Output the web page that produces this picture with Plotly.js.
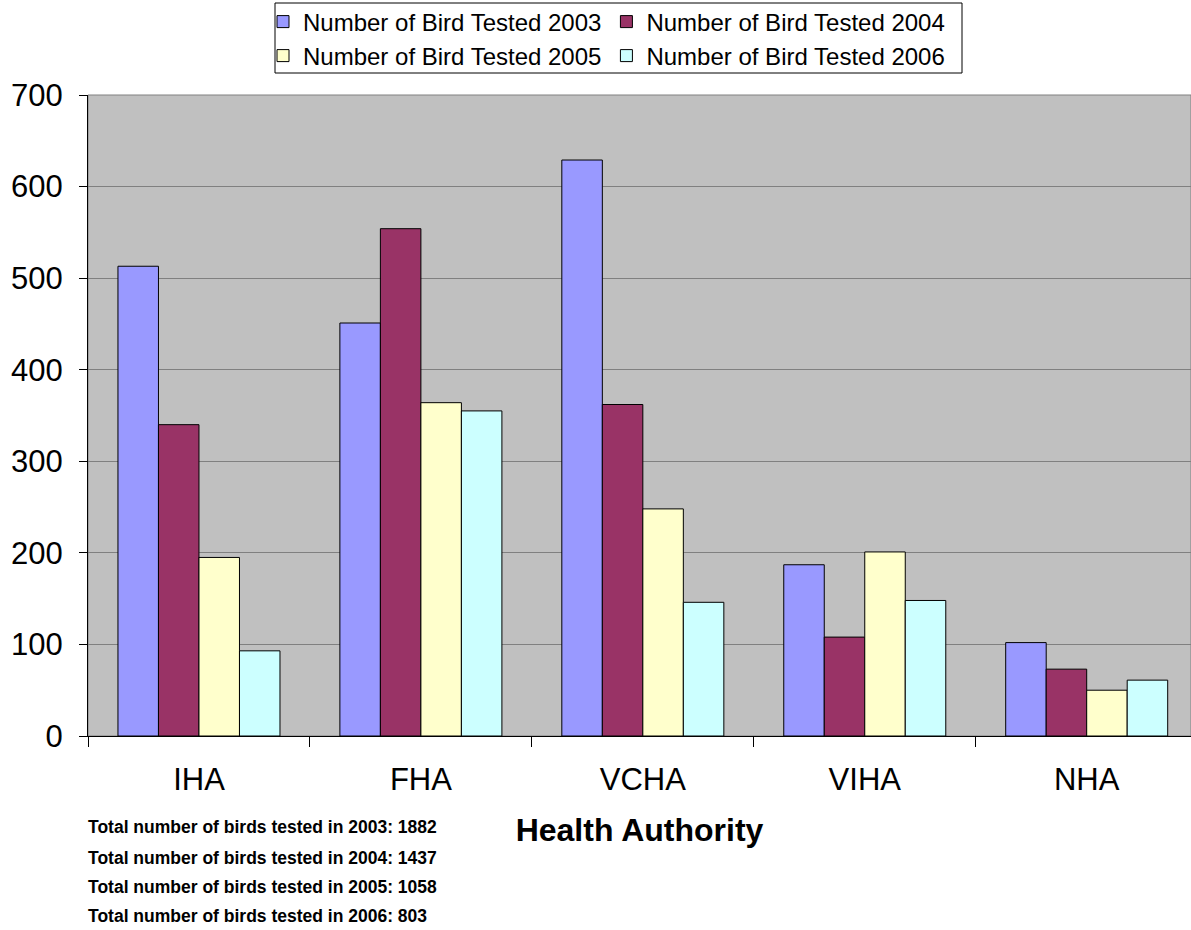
<!DOCTYPE html>
<html>
<head>
<meta charset="utf-8">
<script src="https://cdn.plot.ly/plotly-3.0.1.min.js"></script>
<style>body{margin:0;padding:0;background:#fff;} #chart{width:1191px;height:930px;}</style>
</head>
<body>
<div id="chart"></div>
<script>
const categories = ["IHA", "FHA", "VCHA", "VIHA", "NHA"];
const seriesNames = ["Number of Bird Tested 2003", "Number of Bird Tested 2004", "Number of Bird Tested 2005", "Number of Bird Tested 2006"];
const tested2003 = [513, 451, 629, 187, 102];
const tested2004 = [340, 554, 362, 108, 73];
const tested2005 = [195, 364, 248, 201, 50];
const tested2006 = [93, 355, 146, 148, 61];
const totalsText = [
  "Total number of birds tested in 2003: 1882",
  "Total number of birds tested in 2004: 1437",
  "Total number of birds tested in 2005: 1058",
  "Total number of birds tested in 2006: 803"
];
const colors = ["#9999FF", "#993366", "#FFFFCC", "#CCFFFF"];
const values = [tested2003, tested2004, tested2005, tested2006];
const legendIds = ["legend", "legend", "legend2", "legend2"];

const W = 1191, H = 930;
const M = {l: 88, r: 0, t: 95, b: 194};
const plotW = W - M.l - M.r, plotH = H - M.t - M.b;
const px2paperX = x => (x - M.l) / plotW;
const px2paperY = y => (H - M.b - y) / plotH;

const traces = values.map((v, i) => ({
  type: "bar",
  name: seriesNames[i],
  legend: legendIds[i],
  x: categories,
  y: v,
  marker: {color: colors[i], line: {color: "#000", width: 1}},
  hoverinfo: "x+y+name"
}));

const annYs = [827, 858, 887, 916];
const annotations = totalsText.map((t, i) => ({
  text: "<b>" + t + "</b>",
  xref: "paper", yref: "paper",
  x: px2paperX(86), xanchor: "left",
  y: px2paperY(annYs[i]), yanchor: "middle",
  showarrow: false,
  font: {family: "Arial, Liberation Sans, sans-serif", size: 17.5, color: "#000"}
}));

const legendCommon = {
  orientation: "h",
  xref: "container", yref: "container",
  xanchor: "left", yanchor: "middle",
  bgcolor: "rgba(0,0,0,0)", borderwidth: 0,
  font: {size: 24, family: "Arial, Liberation Sans, sans-serif", color: "#000"},
  traceorder: "normal",
  itemwidth: 30
};

const layout = {
  width: W, height: H,
  margin: M,
  paper_bgcolor: "#ffffff",
  plot_bgcolor: "#C0C0C0",
  font: {family: "Arial, Liberation Sans, sans-serif", color: "#000"},
  barmode: "group",
  bargap: 0.27,
  bargroupgap: 0,
  showlegend: true,
  legend: Object.assign({}, legendCommon, {x: 263 / W, y: 1 - 22 / H}),
  legend2: Object.assign({}, legendCommon, {x: 263 / W, y: 1 - 56 / H}),
  xaxis: {
    type: "category",
    range: [-0.5, 4.47],
    tickson: "boundaries",
    ticks: "outside", ticklen: 10, tickcolor: "#000",
    showline: true, linecolor: "#000", linewidth: 1,
    tickfont: {size: 31},
    ticklabelstandoff: 16,
    title: {text: "<b>Health Authority</b>", font: {size: 32}, standoff: 22},
    automargin: false
  },
  yaxis: {
    range: [0, 700],
    dtick: 100,
    ticks: "outside", ticklen: 8, tickcolor: "#000",
    showline: true, linecolor: "#000", linewidth: 1,
    gridcolor: "#808080", gridwidth: 1,
    tickfont: {size: 31},
    ticklabelstandoff: 10,
    zeroline: false,
    automargin: false
  },
  shapes: [
    {type: "rect", xref: "paper", yref: "paper", x0: 0, x1: 1, y0: 0, y1: 1,
     line: {color: "#808080", width: 1}, layer: "below"},
    {type: "rect", xref: "paper", yref: "paper",
     x0: px2paperX(275), x1: px2paperX(962), y0: px2paperY(73), y1: px2paperY(3),
     line: {color: "#000", width: 1}, fillcolor: "rgba(0,0,0,0)", layer: "above"}
  ],
  annotations: annotations
};

Plotly.newPlot("chart", traces, layout, {displayModeBar: false, staticPlot: true});
</script>
</body>
</html>
